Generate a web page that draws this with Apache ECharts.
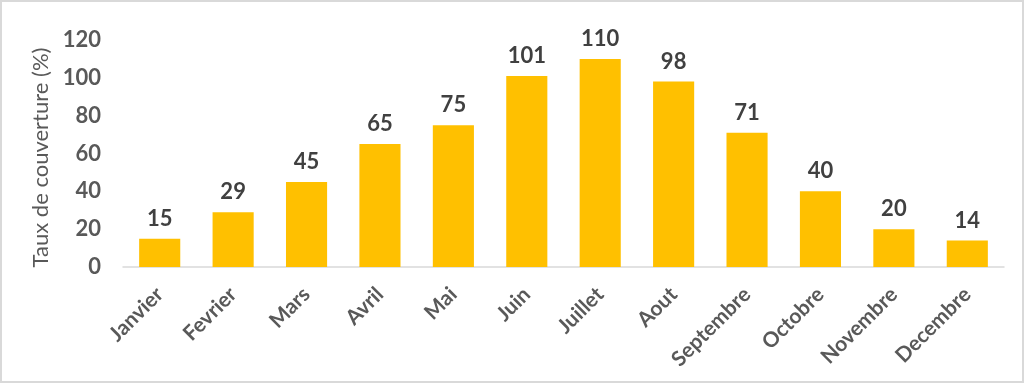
<!DOCTYPE html>
<html>
<head>
<meta charset="utf-8">
<script src="https://cdn.jsdelivr.net/npm/echarts@6/dist/echarts.min.js"></script>
<style>
html,body{margin:0;padding:0;background:#fff;}
#chart{width:1024px;height:383px;}
</style>
</head>
<body>
<div id="chart"></div>
<script>
const months = ["Janvier","Fevrier","Mars","Avril","Mai","Juin","Juillet","Aout","Septembre","Octobre","Novembre","Decembre"];
const coverage = [15,29,45,65,75,101,110,98,71,40,20,14];
const yTicks = {min:0, max:120, interval:20};
const yName = "Taux de couverture (%)";

const chart = echarts.init(document.getElementById('chart'));
chart.setOption({
  animation:false,
  backgroundColor:'#ffffff',
  graphic:[{type:'rect',shape:{x:1,y:1,width:1022,height:381},style:{fill:'none',stroke:'#d9d9d9',lineWidth:2},silent:true}],
  grid:{left:123,right:20,top:40,bottom:116,containLabel:false},
  xAxis:{
    type:'category',
    data:months,
    axisLine:{lineStyle:{color:'#d9d9d9',width:1.5}},
    axisTick:{show:false},
    axisLabel:{rotate:45,color:'#595959',fontFamily:'Lato',fontWeight:'bold',fontSize:21,margin:24,interval:0}
  },
  yAxis:{
    type:'value',
    min:yTicks.min,max:yTicks.max,interval:yTicks.interval,
    name:yName,
    nameLocation:'middle',
    nameGap:60,
    nameTextStyle:{color:'#595959',fontFamily:'Lato',fontSize:22,padding:[0,0,0,-8]},
    axisLine:{show:false},
    axisTick:{show:false},
    splitLine:{show:false},
    axisLabel:{color:'#595959',fontFamily:'Lato',fontWeight:'bold',fontSize:22,margin:22}
  },
  series:[{
    type:'bar',
    data:coverage,
    barWidth:'56%',
    itemStyle:{color:'#FFC000'},
    label:{show:true,position:'top',distance:9,color:'#404040',fontFamily:'Lato',fontWeight:'bold',fontSize:22}
  }]
});
</script>
</body>
</html>
